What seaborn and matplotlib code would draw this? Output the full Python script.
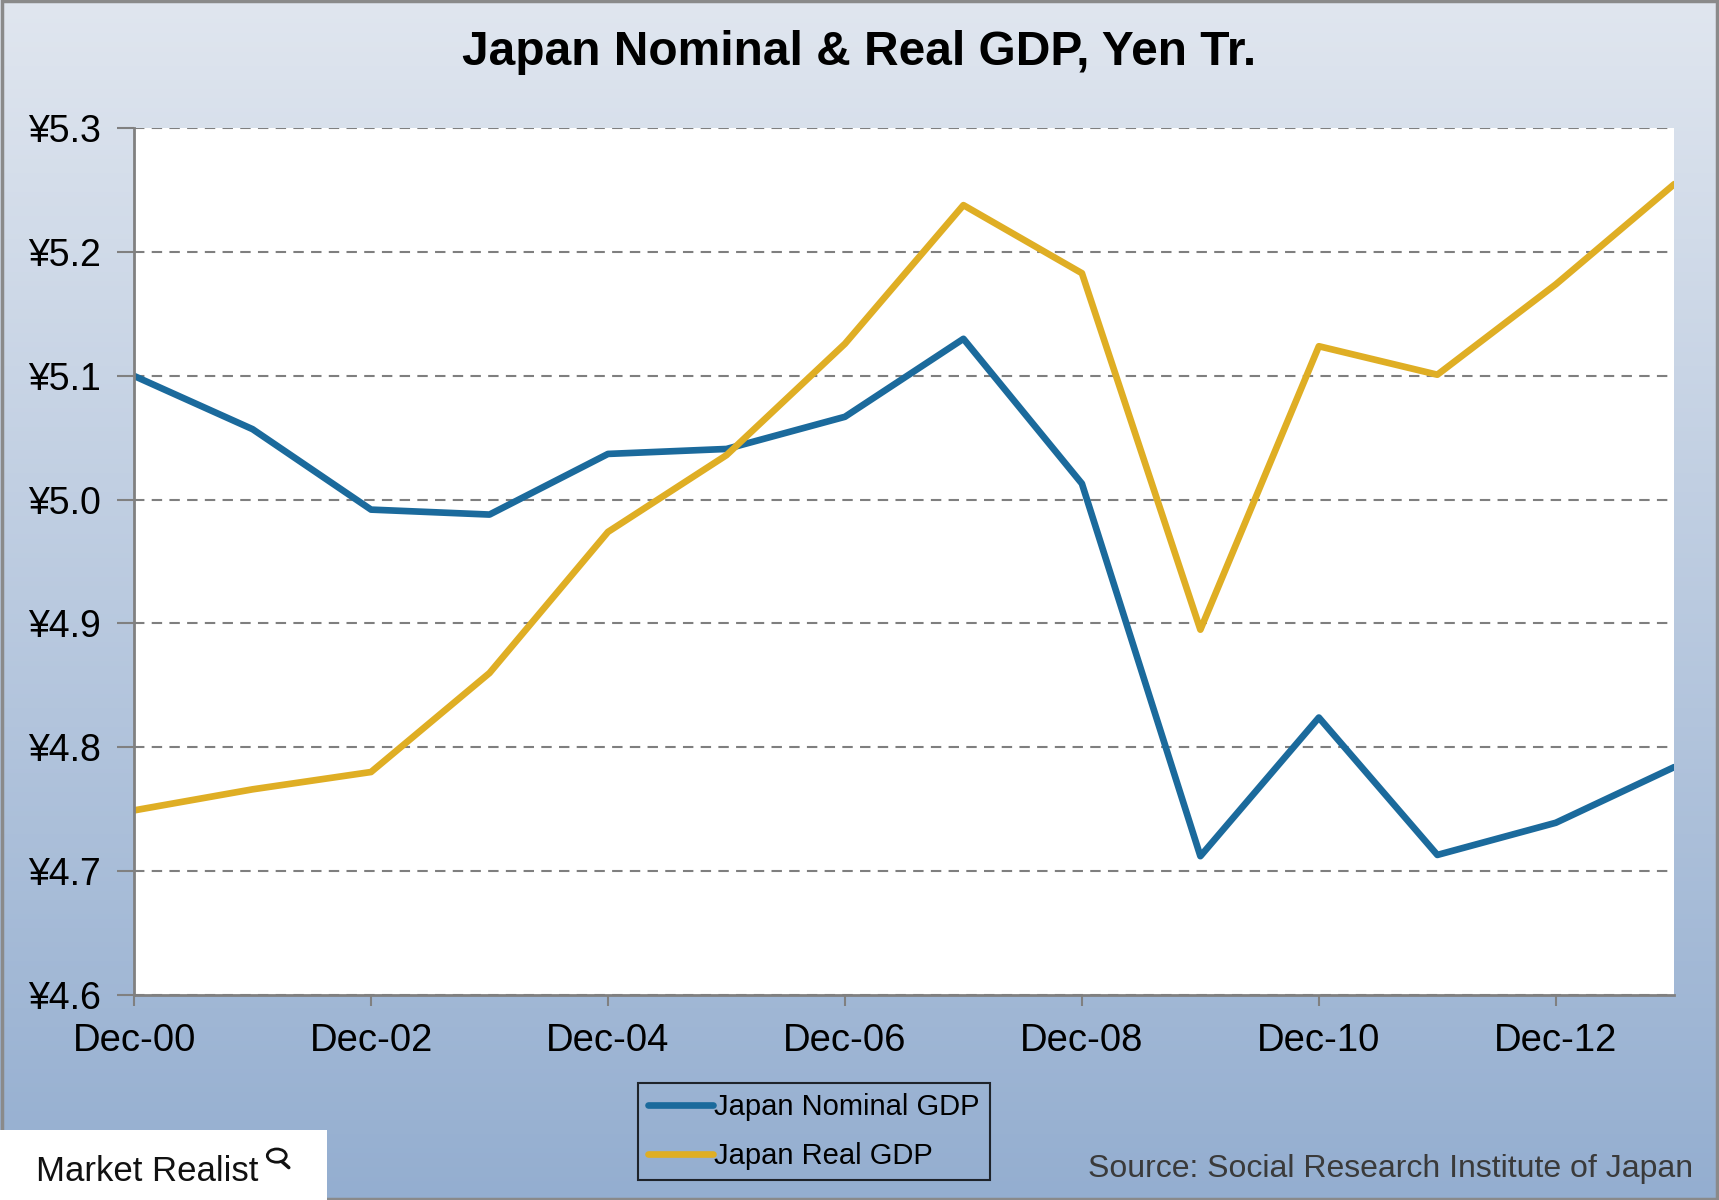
import pandas as pd
import numpy as np
import matplotlib.pyplot as plt
import matplotlib.colors as mcolors
from matplotlib.lines import Line2D
import seaborn as sns

# Japan GDP, yen trillions (as plotted), Dec-00 .. Dec-13
years = list(range(2000, 2014))
nominal_gdp = [5.100, 5.057, 4.992, 4.988, 5.037, 5.041, 5.067,
               5.130, 5.013, 4.712, 4.824, 4.713, 4.739, 4.784]
real_gdp = [4.749, 4.766, 4.780, 4.860, 4.974, 5.036, 5.126,
            5.238, 5.183, 4.895, 5.124, 5.101, 5.174, 5.255]
tick_years = [2000, 2002, 2004, 2006, 2008, 2010, 2012]
tick_labels = ['Dec-00', 'Dec-02', 'Dec-04', 'Dec-06', 'Dec-08', 'Dec-10', 'Dec-12']
y_ticks = [4.6, 4.7, 4.8, 4.9, 5.0, 5.1, 5.2, 5.3]

series_names = ['Japan Nominal GDP', 'Japan Real GDP']
colors = ['#1b6a9c', '#dfae24']

df = pd.DataFrame({
    'year': years * 2,
    'gdp': nominal_gdp + real_gdp,
    'series': [series_names[0]] * len(years) + [series_names[1]] * len(years),
})

sns.set_style('white')
plt.rcParams['font.family'] = ['Liberation Sans', 'DejaVu Sans']

fig = plt.figure(figsize=(17.19, 12), dpi=100)

# gradient background, light at top, blue at bottom
bg = fig.add_axes([0, 0, 1, 1], zorder=-10)
cmap = mcolors.LinearSegmentedColormap.from_list('bg', ['#e0e6ef', '#94aed0'])
bg.imshow(np.linspace(0, 1, 256).reshape(-1, 1), aspect='auto', cmap=cmap,
          extent=[0, 1, 0, 1], origin='upper')
bg.set_xlim(0, 1)
bg.set_ylim(0, 1)
bg.axis('off')
fig.patches.append(plt.Rectangle((0.001, 0.001), 0.998, 0.998, transform=fig.transFigure,
                                 fill=False, edgecolor='#8a8a8a', linewidth=2.5))

ax = fig.add_axes([0.078, 0.171, 0.896, 0.722])
ax.set_facecolor('white')
sns.lineplot(data=df, x='year', y='gdp', hue='series', palette=colors,
             linewidth=4.8, legend=False, ax=ax)
for ln in ax.lines:
    ln.set_solid_capstyle('round')

ax.set_xlim(2000, 2013)
ax.set_ylim(4.6, 5.3)
ax.set_xticks(tick_years)
ax.set_xticklabels(tick_labels, fontsize=27.5, color='black')
ax.set_yticks(y_ticks)
ax.set_yticklabels(['\u00a5%.1f' % v for v in y_ticks], fontsize=27, color='black')
ax.tick_params(axis='x', length=8, width=1.5, color='#808080', pad=12, direction='out')
ax.tick_params(axis='y', length=12, width=1.5, color='#808080', pad=12, direction='out')
ax.xaxis.set_ticks_position('bottom')
ax.yaxis.set_ticks_position('left')
ax.grid(axis='y', linestyle=(0, (5, 3.5)), color='#7f7f7f', linewidth=1.5)
ax.set_axisbelow(True)
for side in ['top', 'right']:
    ax.spines[side].set_visible(False)
for side in ['left', 'bottom']:
    ax.spines[side].set_color('#808080')
    ax.spines[side].set_linewidth(2)
ax.set_xlabel('')
ax.set_ylabel('')

fig.text(0.5, 0.956, 'Japan Nominal & Real GDP, Yen Tr.', ha='center', va='center',
         fontsize=34.5, fontweight='bold', color='black')

handles = [Line2D([0], [0], color=c, linewidth=4.8, solid_capstyle='round') for c in colors]
leg = fig.legend(handles, series_names, loc='center', bbox_to_anchor=(0.4735, 0.057),
                 fontsize=21, frameon=True, fancybox=False, edgecolor='black',
                 handlelength=2.2, handletextpad=0.05, labelspacing=0.72,
                 borderpad=0.35, borderaxespad=0)
leg.get_frame().set_facecolor('none')
leg.get_frame().set_linewidth(1.5)
for t in leg.get_texts():
    t.set_color('black')

# Market Realist logo box
fig.patches.append(plt.Rectangle((0.0, 0.0), 0.19, 0.058, transform=fig.transFigure,
                                 facecolor='white', edgecolor='none', zorder=5))
fig.text(0.021, 0.024, 'Market Realist', ha='left', va='center', fontsize=25,
         color='#111111', zorder=6)
fig.patches.append(plt.Circle((0.161, 0.037), 0.0055, transform=fig.transFigure,
                              fill=False, edgecolor='#111111', linewidth=2, zorder=6))
fig.lines.append(Line2D([0.164, 0.168], [0.032, 0.027], transform=fig.transFigure,
                        color='#111111', linewidth=2.5, zorder=6))

fig.text(0.985, 0.026, 'Source: Social Research Institute of Japan', ha='right',
         va='center', fontsize=23, color='#3a3a3a')

fig.savefig('out.png', dpi=100)
